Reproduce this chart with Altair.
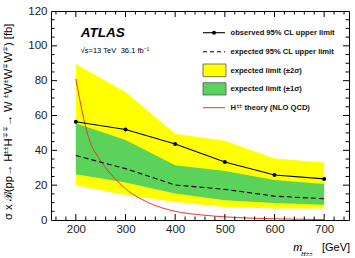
import altair as alt
import pandas as pd

# Limits on sigma x B vs. doubly-charged Higgs mass
mass = [200, 300, 400, 500, 600, 700]
observed = [56.4, 52.0, 43.6, 33.3, 25.8, 23.6]
expected = [37.0, 29.5, 20.1, 17.6, 13.7, 12.2]
band1_lo = [26.3, 21.6, 15.2, 11.3, 9.8, 8.8]
band1_hi = [55.5, 46.0, 31.5, 28.2, 22.9, 20.6]
band2_lo = [20.0, 14.3, 10.4, 7.5, 6.6, 6.6]
band2_hi = [89.5, 73.5, 49.5, 45.5, 35.3, 33.0]

# NLO QCD theory prediction
theory_mass = [200, 225, 250, 275, 300, 350, 400, 450, 500, 550, 600, 650, 700]
theory_xsec = [81.0, 48.0, 34.0, 25.0, 18.0, 9.5, 5.0, 3.0, 1.8, 1.1, 0.7, 0.45, 0.3]

x_labels = [200, 300, 400, 500, 600, 700]
y_labels = [0, 20, 40, 60, 80, 100, 120]
x_minor = [v for v in range(160, 750, 20) if v % 100 != 0]
y_minor = [v for v in range(5, 120, 5) if v % 20 != 0]

W, H = 298, 209
SANS = "Liberation Sans"
SERIF = "Liberation Serif"
YELLOW = "#ffff00"
GREEN = "#5bd35b"
RED = "#e8382c"

xs = alt.Scale(domain=[150, 750], nice=False, zero=False)
ys = alt.Scale(domain=[0, 120], nice=False, zero=False)
x_axis = alt.Axis(values=x_labels, labelPadding=3, format="d",
                  labelOverlap=False, title=None)
y_axis = alt.Axis(values=y_labels, labelPadding=4, format="d",
                  labelOverlap=False, title=None)


def X(field):
    return alt.X(field, scale=xs, axis=x_axis, title=None)


def Y(field):
    return alt.Y(field, scale=ys, axis=y_axis, title=None)


limits = pd.DataFrame({
    "mass": mass, "observed": observed, "expected": expected,
    "b1lo": band1_lo, "b1hi": band1_hi, "b2lo": band2_lo, "b2hi": band2_hi,
})
theory = pd.DataFrame({"mass": theory_mass, "xsec": theory_xsec})

band2 = alt.Chart(limits).mark_area(color=YELLOW, opacity=1).encode(
    x=X("mass:Q"), y=Y("b2lo:Q"), y2="b2hi:Q"
)
band1 = alt.Chart(limits).mark_area(color=GREEN, opacity=1).encode(
    x=X("mass:Q"), y=Y("b1lo:Q"), y2="b1hi:Q"
)
theory_line = alt.Chart(theory).mark_line(
    color=RED, strokeWidth=1, interpolate="monotone", clip=True
).encode(x=X("mass:Q"), y=Y("xsec:Q"))
exp_line = alt.Chart(limits).mark_line(
    color="black", strokeWidth=1.1, strokeDash=[5, 3]
).encode(x=X("mass:Q"), y=Y("expected:Q"))
obs_line = alt.Chart(limits).mark_line(
    color="black", strokeWidth=1.1,
    point=alt.OverlayMarkDef(filled=True, color="black", size=16),
).encode(x=X("mass:Q"), y=Y("observed:Q"))


# Inward-pointing ticks on all four sides
def x_ticks(values, length):
    df = pd.DataFrame({"v": values})
    bottom = alt.Chart(df).mark_rule(color="black", strokeWidth=1).encode(
        x=X("v:Q"), y=alt.value(H), y2=alt.value(H - length))
    top = alt.Chart(df).mark_rule(color="black", strokeWidth=1).encode(
        x=X("v:Q"), y=alt.value(0), y2=alt.value(length))
    return [bottom, top]


def y_ticks(values, length):
    df = pd.DataFrame({"v": values})
    left = alt.Chart(df).mark_rule(color="black", strokeWidth=1).encode(
        y=Y("v:Q"), x=alt.value(0), x2=alt.value(length))
    right = alt.Chart(df).mark_rule(color="black", strokeWidth=1).encode(
        y=Y("v:Q"), x=alt.value(W), x2=alt.value(W - length))
    return [left, right]


ticks = (x_ticks(x_labels, 6) + x_ticks(x_minor, 3.5)
         + y_ticks(y_labels[1:-1], 6) + y_ticks(y_minor, 3.5))


def label(text, x, y, size, font=SANS, weight="normal", style="normal",
          angle=0, color="black", align="left", baseline="alphabetic"):
    return alt.Chart(pd.DataFrame({"t": [text]})).mark_text(
        font=font, fontSize=size, fontWeight=weight, fontStyle=style,
        angle=angle, color=color, align=align, baseline=baseline,
    ).encode(text="t:N", x=alt.value(x), y=alt.value(y))


def px_rule(x1, x2, y1, y2, color, width=1, dash=None):
    kw = dict(color=color, strokeWidth=width)
    if dash:
        kw["strokeDash"] = dash
    return alt.Chart(pd.DataFrame({"a": [0]})).mark_rule(**kw).encode(
        x=alt.value(x1), x2=alt.value(x2), y=alt.value(y1), y2=alt.value(y2))


def px_box(x1, x2, y1, y2, fill):
    return alt.Chart(pd.DataFrame({"a": [0]})).mark_rect(
        color=fill, stroke="#555555", strokeWidth=0.8
    ).encode(x=alt.value(x1), x2=alt.value(x2), y=alt.value(y1), y2=alt.value(y2))


# Legend
LX0, LX1, TX = 152, 174, 179.5
LSIZE = 7.6
LCOL = "#111111"
legend = [
    px_rule(LX0, LX1, 21.7, 21.7, "black", 1.1),
    alt.Chart(pd.DataFrame({"a": [0]})).mark_point(
        filled=True, color="black", size=16, opacity=1
    ).encode(x=alt.value((LX0 + LX1) / 2), y=alt.value(21.7)),
    label("observed 95% CL upper limit", TX, 21.7, LSIZE, weight="bold",
          baseline="middle", color=LCOL),
    px_rule(LX0, LX1, 40.7, 40.7, "black", 1.1, [4, 3]),
    label("expected 95% CL upper limit", TX, 40.7, LSIZE, weight="bold",
          baseline="middle", color=LCOL),
    px_box(LX0, LX1 + 1, 53, 65.7, YELLOW),
    label("expected limit (±2σ)", TX, 59.5, LSIZE, weight="bold",
          baseline="middle", color=LCOL),
    px_box(LX0, LX1 + 1, 71.7, 84, GREEN),
    label("expected limit (±1σ)", TX, 78.2, LSIZE, weight="bold",
          baseline="middle", color=LCOL),
    px_rule(LX0, LX1, 96.7, 96.7, RED, 1),
    label("H", TX, 96.7, LSIZE, weight="bold", baseline="middle", color=LCOL),
    label("±±", TX + 6, 94.5, 5, weight="bold", baseline="middle", color=LCOL),
    label("theory (NLO QCD)", TX + 14, 96.7, LSIZE, weight="bold",
          baseline="middle", color=LCOL),
]

# Experiment tag
tag = [
    label("ATLAS", 29.7, 25.7, 13.5, weight="bold", style="italic"),
    label("√s=13 TeV", 29.7, 42, 7.5),
    label("36.1 fb⁻¹", 69.7, 42, 7.5),
]

# Y-axis title with superscripts, laid out along the rotated baseline
ADV = {" ": 0.278, "x": 0.5, "(": 0.333, ")": 0.333, "p": 0.556, "H": 0.722,
       "W": 0.944, "[": 0.278, "]": 0.278, "f": 0.278, "b": 0.556,
       "σ": 0.57, "ℬ": 0.75, "→": 1.0, "±": 0.584, "∓": 0.84}


def text_width(s, size):
    return sum(ADV.get(c, 0.6) for c in s) * size


YT_SIZE, YT_SUP = 11.2, 7.2
segments = [("σ x ℬ(pp→ H", False), ("±±", True), ("H", False), ("∓∓", True),
            (" → W", False), ("±", True), ("W", False), ("±", True),
            ("W", False), ("∓", True), ("W", False), ("∓", True),
            (") [fb]", False)]
ytitle = []
pos = 209
for seg, sup in segments:
    size = YT_SUP if sup else YT_SIZE
    bx = -43.5 if sup else -39
    ytitle.append(label(seg, bx, pos, size, angle=270))
    pos -= text_width(seg, size)

xtitle = [
    label("m", 242, 240, 13, font=SERIF, style="italic"),
    label("H±±", 250, 244.5, 6.5, font=SERIF, style="italic"),
    label("[GeV]", 271, 240, 11),
]

chart = alt.layer(
    band2, band1, theory_line, exp_line, obs_line,
    *ticks, *legend, *tag, *ytitle, *xtitle,
).properties(
    width=W, height=H,
    padding={"left": 51, "top": 11, "right": 6, "bottom": 38},
    autosize="none",
).configure_view(
    stroke="black", strokeWidth=1
).configure_axis(
    domain=False, ticks=False, grid=False, labelOverlap=False,
    labelFont=SANS, labelFontSize=11.5, labelColor="#222222",
)

chart.save("out.html", embed_options={"renderer": "svg", "actions": False})
